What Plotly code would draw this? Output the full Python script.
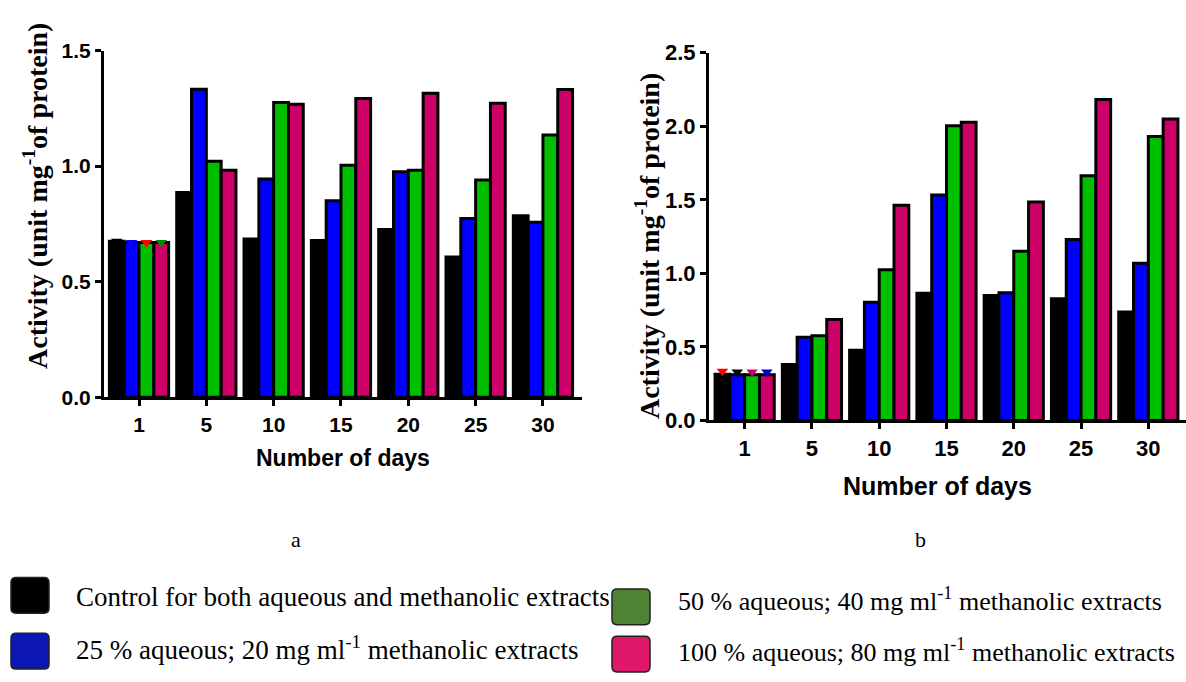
import plotly.graph_objects as go

# ---------------- data ----------------
days = ["1", "5", "10", "15", "20", "25", "30"]
series_names = [
    "Control for both aqueous and methanolic extracts",
    "25 % aqueous; 20 mg ml<sup>-1</sup> methanolic extracts",
    "50 % aqueous; 40 mg ml<sup>-1</sup> methanolic extracts",
    "100 % aqueous; 80 mg ml<sup>-1</sup> methanolic extracts",
]
# panel a
a_control = [0.675, 0.886, 0.685, 0.678, 0.726, 0.607, 0.785]
a_25 = [0.670, 1.333, 0.944, 0.850, 0.976, 0.774, 0.757]
a_50 = [0.670, 1.021, 1.275, 1.004, 0.982, 0.940, 1.135]
a_100 = [0.670, 0.982, 1.268, 1.292, 1.315, 1.272, 1.331]
# panel b
b_control = [0.314, 0.380, 0.478, 0.865, 0.849, 0.828, 0.738]
b_25 = [0.310, 0.565, 0.803, 1.533, 0.869, 1.231, 1.068]
b_50 = [0.310, 0.576, 1.024, 2.004, 1.151, 1.664, 1.930]
b_100 = [0.310, 0.686, 1.463, 2.028, 1.485, 2.183, 2.050]

a_err_colors = ["#000000", "#0000ff", "#ff0000", "#008a00"]
b_err_colors = ["#ff0000", "#000000", "#cc0066", "#0000cc"]

a_ticks = [0.0, 0.5, 1.0, 1.5]
b_ticks = [0.0, 0.5, 1.0, 1.5, 2.0, 2.5]

# ---------------- style ----------------
W, H = 1186, 682
bar_colors = ["#000000", "#0000ff", "#00bf00", "#cc0066"]
legend_colors = ["#000000", "#0b16b3", "#4f8234", "#e0186b"]
BARGAP = 0.12
SANS = "Liberation Sans, Arial, sans-serif"
SERIF = "Liberation Serif, Times New Roman, serif"

fig = go.Figure()
xidx = list(range(len(days)))

panels = [
    ("x", "y", [a_control, a_25, a_50, a_100], a_err_colors, 0.0),
    ("x2", "y2", [b_control, b_25, b_50, b_100], b_err_colors, 0.02),
]
nser = 4
bw = (1 - BARGAP) / nser
for xa, ya, vals, errc, eoff in panels:
    for i, v in enumerate(vals):
        fig.add_trace(go.Bar(
            x=xidx, y=v, xaxis=xa, yaxis=ya, name=series_names[i],
            marker=dict(color=bar_colors[i], line=dict(color="black", width=3)),
            showlegend=False,
        ))
    # small error caps on the day-1 group
    ex = [xidx[0] + (i - (nser - 1) / 2) * bw for i in range(nser)]
    ey = [vals[i][0] + eoff for i in range(nser)]
    fig.add_trace(go.Scatter(
        x=ex, y=ey, xaxis=xa, yaxis=ya, mode="markers",
        marker=dict(symbol="triangle-down", size=10, color=errc,
                    line=dict(width=0)),
        showlegend=False, hoverinfo="skip",
    ))

axis_common = dict(showline=True, linecolor="black", linewidth=3,
                   ticks="outside", ticklen=6, tickwidth=3, tickcolor="black",
                   showgrid=False, zeroline=False)

fig.update_layout(
    width=W, height=H, autosize=False,
    margin=dict(l=0, r=0, t=0, b=0),
    paper_bgcolor="white", plot_bgcolor="white",
    barmode="group", bargap=BARGAP, bargroupgap=0,
    xaxis=dict(domain=[104 / W, 582 / W], range=[-0.52, 6.58],
               tickvals=xidx, ticktext=days, anchor="y",
               tickfont=dict(family=SANS, size=21, color="black", weight="bold"),
               **axis_common),
    yaxis=dict(domain=[(H - 400) / H, (H - 40) / H], range=[0, 1.5],
               tickvals=a_ticks, ticktext=[f"{t:.1f}" for t in a_ticks], anchor="x",
               tickfont=dict(family=SANS, size=21, color="black", weight="bold"),
               **axis_common),
    xaxis2=dict(domain=[709 / W, 1.0], range=[-0.53, 6.56],
                tickvals=xidx, ticktext=days, anchor="y2",
                tickfont=dict(family=SANS, size=22, color="black", weight="bold"),
                **axis_common),
    yaxis2=dict(domain=[(H - 424) / H, (H - 42.3) / H], range=[0, 2.5],
                tickvals=b_ticks, ticktext=[f"{t:.1f}" for t in b_ticks], anchor="x2",
                tickfont=dict(family=SANS, size=22, color="black", weight="bold"),
                **axis_common),
)

ann = []
ytitle = "<b>Activity (unit mg<sup>-1</sup>of protein)</b>"
ann.append(dict(text=ytitle, x=36 / W, y=(H - 191) / H, xref="paper", yref="paper",
                textangle=-90, showarrow=False, xanchor="center", yanchor="middle",
                font=dict(family=SERIF, size=28, color="black")))
ann.append(dict(text=ytitle, x=647 / W, y=(H - 243) / H, xref="paper", yref="paper",
                textangle=-90, showarrow=False, xanchor="center", yanchor="middle",
                font=dict(family=SERIF, size=28, color="black")))
ann.append(dict(text="<b>Number of days</b>", x=343 / W, y=(H - 463) / H,
                xref="paper", yref="paper", showarrow=False,
                xanchor="center", yanchor="middle",
                font=dict(family=SANS, size=23, color="black")))
ann.append(dict(text="<b>Number of days</b>", x=937 / W, y=(H - 492) / H,
                xref="paper", yref="paper", showarrow=False,
                xanchor="center", yanchor="middle",
                font=dict(family=SANS, size=25, color="black")))
ann.append(dict(text="a", x=296 / W, y=(H - 548) / H, xref="paper", yref="paper",
                showarrow=False, xanchor="center", yanchor="middle",
                font=dict(family=SERIF, size=22, color="black")))
ann.append(dict(text="b", x=920 / W, y=(H - 548) / H, xref="paper", yref="paper",
                showarrow=False, xanchor="center", yanchor="middle",
                font=dict(family=SERIF, size=22, color="black")))

# legend (custom, bottom)
leg_pos = [  # (square x0, square y0 top, text x, text y center, font size) in px
    (11, 587, 74, 607, 27),
    (11, 645, 74, 660, 27),
    (612, 599, 676, 610, 26),
    (612, 648, 676, 663, 26),
]


def rrect_path(x0, y0, x1, y1, r):
    # coordinates in px -> paper
    def P(x, y):
        return f"{x / W:.5f},{(H - y) / H:.5f}"
    return (f"M {P(x0 + r, y0)} L {P(x1 - r, y0)} Q {P(x1, y0)} {P(x1, y0 + r)} "
            f"L {P(x1, y1 - r)} Q {P(x1, y1)} {P(x1 - r, y1)} "
            f"L {P(x0 + r, y1)} Q {P(x0, y1)} {P(x0, y1 - r)} "
            f"L {P(x0, y0 + r)} Q {P(x0, y0)} {P(x0 + r, y0)} Z")


shapes = []
for i, (sx, sy, tx, ty, fs) in enumerate(leg_pos):
    shapes.append(dict(type="path", xref="paper", yref="paper",
                       path=rrect_path(sx, sy, sx + 38, sy + 37, 5),
                       fillcolor=legend_colors[i],
                       line=dict(color="#222222", width=1.5)))
    ann.append(dict(text=series_names[i], x=tx / W, y=(H - ty) / H,
                    xref="paper", yref="paper", showarrow=False,
                    xanchor="left", yanchor="middle",
                    font=dict(family=SERIF, size=fs, color="black")))

fig.update_layout(annotations=ann, shapes=shapes)

fig.write_html("out.html")
